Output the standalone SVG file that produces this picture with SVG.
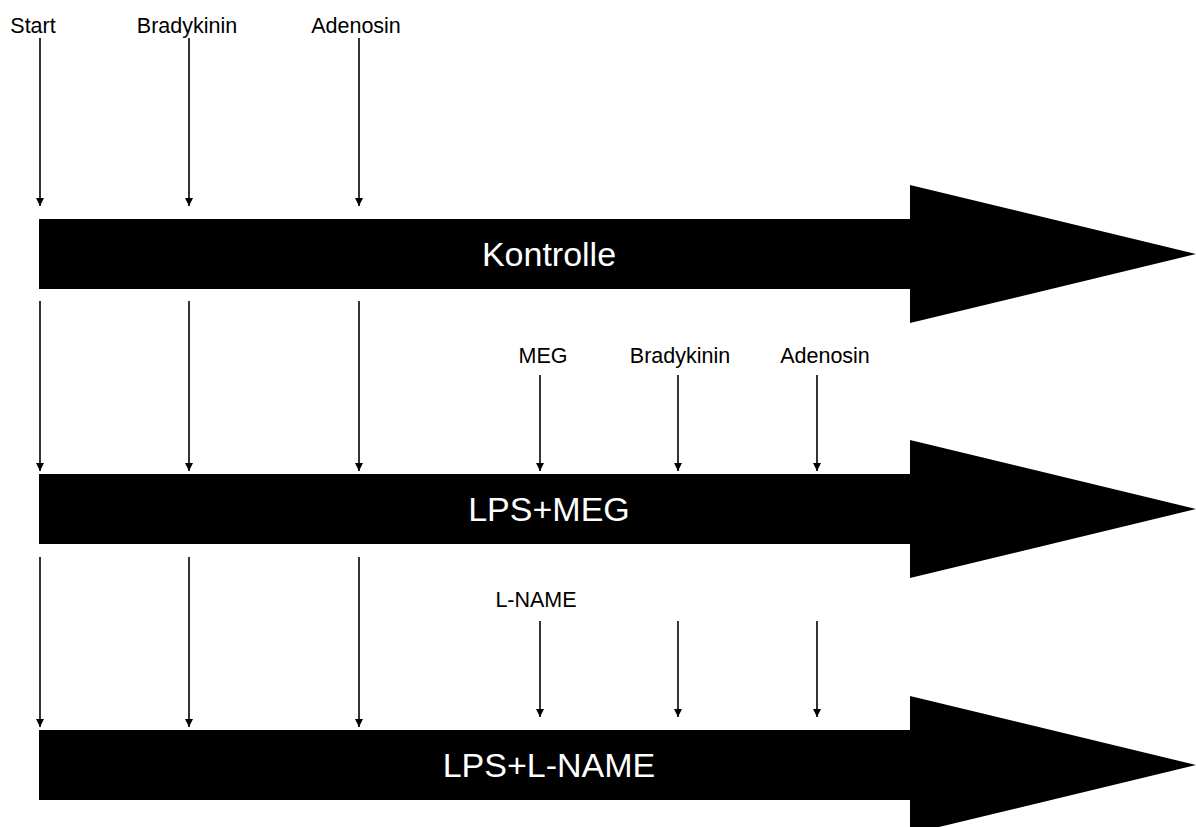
<svg xmlns="http://www.w3.org/2000/svg" width="1196" height="827" viewBox="0 0 1196 827">
<style>
.lbl{font-family:"Liberation Sans",Arial,sans-serif;font-size:21.5px;fill:#000;text-anchor:middle}
.big{font-family:"Liberation Sans",Arial,sans-serif;font-size:34px;fill:#fff;text-anchor:middle}
.ln{stroke:#000;stroke-width:1.6;fill:none;marker-end:url(#ah)}
.bar{fill:#000}
</style>
<defs>
<marker id="ah" markerUnits="userSpaceOnUse" markerWidth="8" markerHeight="8" viewBox="0 0 8 8" refX="8" refY="4" orient="auto">
<path d="M0,0 L8,4 L0,8 Z" fill="#000"/>
</marker>
</defs>
<g id="bar-kontrolle">
<path class="bar" d="M39,219 H910 V185 L1196,254 L910,323 V289 H39 Z"/>
<text class="big" x="549" y="266">Kontrolle</text>
</g>
<g id="bar-lps-meg">
<path class="bar" d="M39,474 H910 V440 L1196,509 L910,578 V544 H39 Z"/>
<text class="big" x="549" y="521">LPS+MEG</text>
</g>
<g id="bar-lps-lname">
<path class="bar" d="M39,730 H910 V696 L1196,765 L910,834 V800 H39 Z"/>
<text class="big" x="549" y="777">LPS+L-NAME</text>
</g>
<g id="labels">
<text class="lbl" x="33" y="33">Start</text>
<text class="lbl" x="187" y="33">Bradykinin</text>
<text class="lbl" x="356" y="33">Adenosin</text>
<text class="lbl" x="543" y="363">MEG</text>
<text class="lbl" x="680" y="363">Bradykinin</text>
<text class="lbl" x="825" y="363">Adenosin</text>
<text class="lbl" x="536" y="607">L-NAME</text>
</g>
<g id="connectors">
<line class="ln" x1="40" y1="38" x2="40" y2="206"/>
<line class="ln" x1="189" y1="38" x2="189" y2="206"/>
<line class="ln" x1="359" y1="38" x2="359" y2="206"/>
<line class="ln" x1="40" y1="301" x2="40" y2="471"/>
<line class="ln" x1="189" y1="301" x2="189" y2="471"/>
<line class="ln" x1="359" y1="301" x2="359" y2="471"/>
<line class="ln" x1="540" y1="375" x2="540" y2="471"/>
<line class="ln" x1="678" y1="375" x2="678" y2="471"/>
<line class="ln" x1="817" y1="375" x2="817" y2="471"/>
<line class="ln" x1="40" y1="557" x2="40" y2="727"/>
<line class="ln" x1="189" y1="557" x2="189" y2="727"/>
<line class="ln" x1="359" y1="557" x2="359" y2="727"/>
<line class="ln" x1="540" y1="621" x2="540" y2="717"/>
<line class="ln" x1="678" y1="621" x2="678" y2="717"/>
<line class="ln" x1="817" y1="621" x2="817" y2="717"/>
</g>
</svg>
